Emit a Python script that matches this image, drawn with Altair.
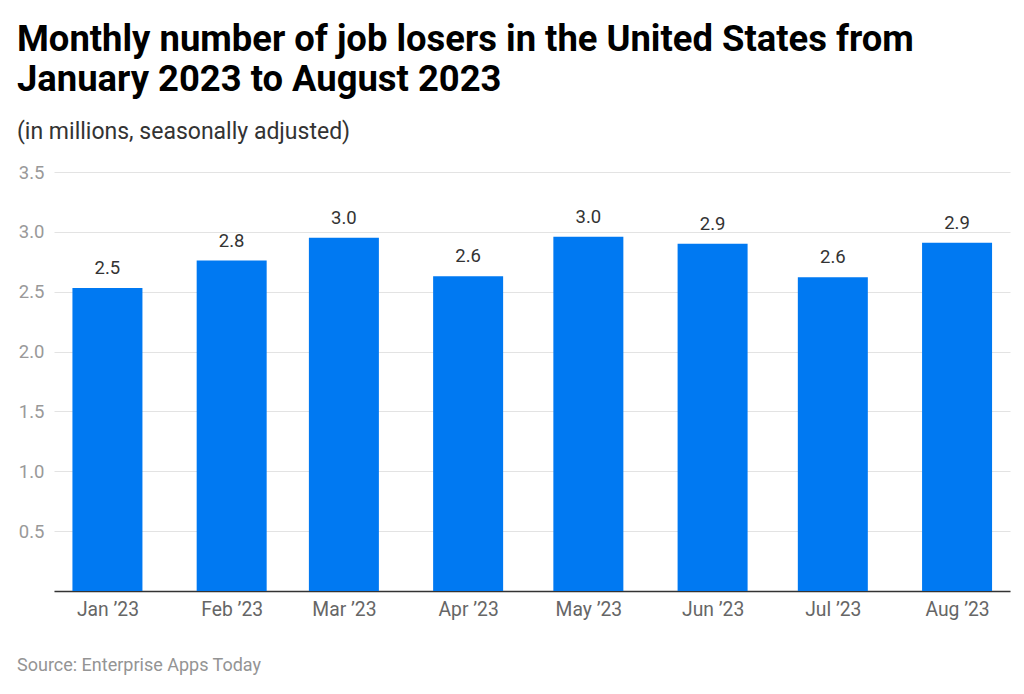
import altair as alt
import pandas as pd

months = ["2023-01-01T00:00:00", "2023-02-01T00:00:00", "2023-03-01T00:00:00", "2023-04-01T00:00:00",
          "2023-05-01T00:00:00", "2023-06-01T00:00:00", "2023-07-01T00:00:00", "2023-08-01T00:00:00"]
values = [2.53, 2.76, 2.95, 2.63, 2.96, 2.90, 2.62, 2.91]
y_ticks = [0.5, 1.0, 1.5, 2.0, 2.5, 3.0, 3.5]
title_lines = ["Monthly number of job losers in the United States from", "January 2023 to August 2023"]
subtitle = "(in millions, seasonally adjusted)"
source = "Source: Enterprise Apps Today"

df = pd.DataFrame({"month": months, "value": values})

FONT = "Roboto"
BAR = "#0079F2"

x = alt.X(
    "month:T",
    scale=alt.Scale(domain=[alt.DateTime(year=2022, month=12, date=18, hours=16),
                            alt.DateTime(year=2023, month=8, date=14, hours=5)],
                    nice=False, padding=0),
    axis=alt.Axis(
        title=None,
        values=[alt.DateTime(year=2023, month=m, date=1) for m in range(1, 9)],
        format="%b ’%y",
        grid=False,
        ticks=False,
        domainColor="#333333",
        domainWidth=1.5,
        labelColor="#666666",
        labelFontSize=19.3,
        labelFont=FONT,
        labelPadding=9,
    ),
)
y = alt.Y(
    "value:Q",
    scale=alt.Scale(domain=[0, 3.5], nice=False),
    axis=alt.Axis(
        title=None,
        values=[0] + y_ticks,
        labelExpr="datum.value == 0 ? '' : format(datum.value, '.1f')",
        domain=False,
        ticks=False,
        gridColor="#e3e3e3",
        gridWidth=1,
        labelColor="#999999",
        labelFontSize=18.5,
        labelFont=FONT,
        labelPadding=10,
    ),
)

base = alt.Chart(df)
bars = base.mark_bar(color=BAR, width=70).encode(x=x, y=y)
labels = base.mark_text(baseline="bottom", dy=-10, fontSize=18.5, font=FONT, color="#333333").encode(
    x=x, y=y, text=alt.Text("value:Q", format=".1f")
)
src = alt.Chart(pd.DataFrame({"t": [source]})).mark_text(
    align="left", baseline="middle", fontSize=18, font=FONT, color="#949494"
).encode(x=alt.value(-37), y=alt.value(494), text="t:N")

chart = alt.layer(bars, labels, src).properties(
    width=956,
    height=419,
    autosize=alt.AutoSizeParams(type="none"),
    padding={"left": 46, "top": 164, "right": 6, "bottom": 90},
    title=alt.TitleParams(
        text=title_lines,
        subtitle=subtitle,
        anchor="start",
        frame="group",
        dx=-37,
        offset=19,
        font=FONT,
        fontSize=36.4,
        fontWeight="bold",
        color="#000000",
        lineHeight=40,
        subtitleFont=FONT,
        subtitleFontSize=23,
        subtitleColor="#333333",
        subtitlePadding=23,
    ),
).configure_view(stroke=None)

chart.save("out.html", embed_options={"renderer": "svg", "actions": False})
